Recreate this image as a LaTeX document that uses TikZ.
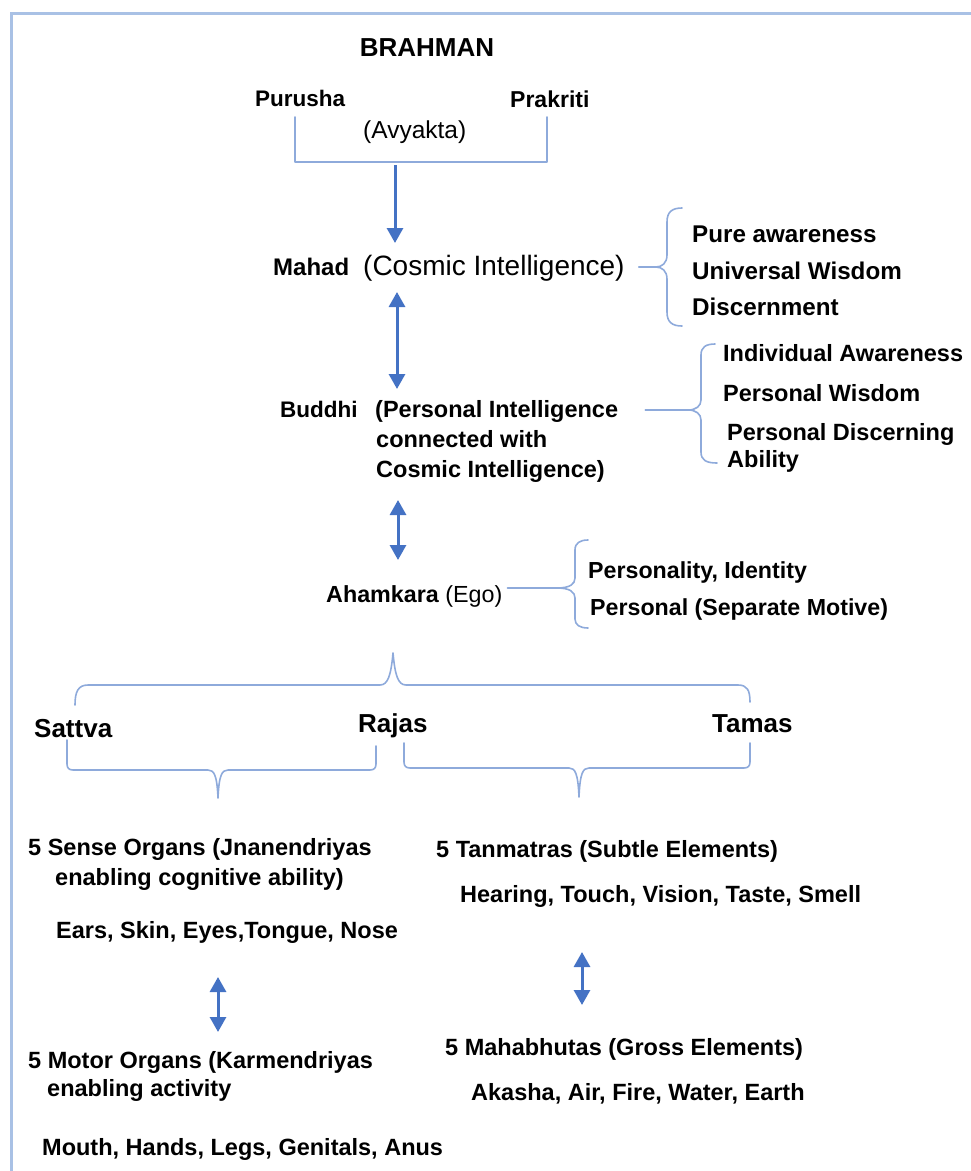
\documentclass[tikz,border=0pt]{standalone}
\usepackage{fontspec}
\setmainfont{Liberation Sans}
\usetikzlibrary{arrows.meta}
\definecolor{brk}{HTML}{8EAADB}
\definecolor{arr}{HTML}{4472C4}
\definecolor{frm}{HTML}{A9C1E5}
\begin{document}
\begin{tikzpicture}[x=1pt,y=-1pt,
  txt/.style={anchor=base west,inner sep=0pt,font=\bfseries\fontsize{23.5}{28}\selectfont},
  reg/.style={anchor=base west,inner sep=0pt,font=\fontsize{#1}{28}\selectfont},
  bsz/.style={anchor=base west,inner sep=0pt,font=\bfseries\fontsize{#1}{28}\selectfont},
  brace/.style={draw=brk,line width=1.6pt,line join=round,line cap=round},
  arrowS/.style={draw=arr,line width=3pt,-{Triangle[width=16pt,length=15pt]}},
  darrow/.style={draw=arr,line width=3pt,{Triangle[width=16pt,length=15pt]}-{Triangle[width=16pt,length=15pt]}},
]
\useasboundingbox (0,0) rectangle (971,1171);
% frame
\draw[frm,line width=3pt] (11,1171) -- (11,13) -- (971,13);

% top
\node[bsz=26,anchor=base] (brahman) at (427,56) {BRAHMAN};
\node[bsz=22.5] (purusha) at (255,106) {Purusha};
\node[bsz=23] (prakriti) at (510,107) {Prakriti};
\node[reg=24.5] (avyakta) at (363,138) {(Avyakta)};
\draw[brace] (295,117) -- (295,162) -- (547,162) -- (547,117);

\coordinate (avyB) at (395,165);
\coordinate (mahadT) at (395,243);
\draw[arrowS] (avyB) -- (mahadT);

% Mahad
\node[bsz=24] (mahad) at (273,275) {Mahad};
\node[reg=28] (cosmic) at (363,275) {(Cosmic Intelligence)};
\coordinate (mtip) at (656,267);
\draw[brace] (682,208) .. controls (672,208) and (667,212) .. (667,222) -- (667,255)
  .. controls (667,263) and (662,267) .. (mtip)
  .. controls (662,267) and (667,271) .. (667,279) -- (667,312)
  .. controls (667,322) and (672,326) .. (682,326);
\draw[brace] ([xshift=14pt]cosmic.east |- mtip) -- (mtip);
\node[bsz=24.2] (pure) at (692,242) {Pure awareness};
\node[bsz=24.2] (universal) at (692,279) {Universal Wisdom};
\node[bsz=24.2] (discern) at (692,315) {Discernment};

\coordinate (mbT) at (397,292);
\coordinate (mbB) at (397,389);
\draw[darrow] (mbT) -- (mbB);

% Buddhi
\node[bsz=22.5] (buddhi) at (280,417) {Buddhi};
\node[txt] (pint1) at (375,417) {(Personal Intelligence};
\node[txt] (pint2) at (376,447) {connected with};
\node[txt] (pint3) at (376,477) {Cosmic Intelligence)};
\coordinate (btip) at (688,410);
\draw[brace] (715,344) .. controls (706,344) and (701,347) .. (701,355) -- (701,400)
  .. controls (701,406) and (696,410) .. (btip)
  .. controls (696,410) and (701,414) .. (701,420) -- (701,452)
  .. controls (701,460) and (706,463) .. (717,463);
\draw[brace] ([xshift=27pt]pint1.east |- btip) -- (btip);
\node[txt] (indiv) at (723,361) {Individual Awareness};
\node[txt] (pwis) at (723,401) {Personal Wisdom};
\node[txt] (pdisc) at (727,440) {Personal Discerning};
\node[txt] (ability) at (727,467) {Ability};

\coordinate (baT) at (398,500);
\coordinate (baB) at (398,560);
\draw[darrow] (baT) -- (baB);

% Ahamkara
\node[bsz=23.3] (ahamkara) at (326,602) {Ahamkara \mdseries(Ego)};
\coordinate (atip) at (557,588);
\draw[brace] (588,540) .. controls (580,540) and (575,543) .. (575,550) -- (575,578)
  .. controls (575,584) and (570,588) .. (atip)
  .. controls (570,588) and (575,592) .. (575,598) -- (575,619)
  .. controls (575,625) and (580,628) .. (588,628);
\draw[brace] ([xshift=5pt]ahamkara.east |- atip) -- (atip);
\node[bsz=23.2] (persona) at (588,578) {Personality, Identity};
\node[bsz=23.2] (pmotive) at (590,615) {Personal (Separate Motive)};

% Gunas
\draw[brace] (75,705) .. controls (75,692) and (78,685) .. (88,685) -- (380,685)
  .. controls (388,685) and (391,675) .. (393,653)
  .. controls (395,675) and (398,685) .. (406,685) -- (738,685)
  .. controls (747,685) and (750,690) .. (750,702);
\node[bsz=26] (sattva) at (34,737) {Sattva};
\node[bsz=26] (rajas) at (358,732) {Rajas};
\node[bsz=26] (tamas) at (712,732) {Tamas};
\draw[brace] (67,740) -- (67,764) .. controls (67,768) and (69,770) .. (73,770) -- (208,770)
  .. controls (214,770) and (217,775) .. (218,798)
  .. controls (219,775) and (222,770) .. (228,770) -- (370,770)
  .. controls (374,770) and (376,768) .. (376,764) -- (376,746);
\draw[brace] (404,743) -- (404,762) .. controls (404,766) and (406,768) .. (410,768) -- (569,768)
  .. controls (575,768) and (578,773) .. (579,797)
  .. controls (580,773) and (583,768) .. (589,768) -- (744,768)
  .. controls (748,768) and (750,766) .. (750,762) -- (750,743);

% bottom left
\node[txt] (sense1) at (28,855) {5 Sense Organs (Jnanendriyas};
\node[txt] (sense2) at (55,885) {enabling cognitive ability)};
\node[txt] (senseList) at (56,938) {Ears, Skin, Eyes,Tongue, Nose};
\coordinate (smT) at (218,977);
\coordinate (smB) at (218,1032);
\draw[darrow] (smT) -- (smB);
\node[txt] (motor1) at (28,1068) {5 Motor Organs (Karmendriyas};
\node[txt] (motor2) at (47,1096) {enabling activity};
\node[txt] (motorList) at (42,1155) {Mouth, Hands, Legs, Genitals, Anus};

% bottom right
\node[txt] (tan1) at (436,857) {5 Tanmatras (Subtle Elements)};
\node[txt] (tanList) at (460,902) {Hearing, Touch, Vision, Taste, Smell};
\coordinate (tmT) at (582,952);
\coordinate (tmB) at (582,1005);
\draw[darrow] (tmT) -- (tmB);
\node[txt] (maha1) at (445,1055) {5 Mahabhutas (Gross Elements)};
\node[txt] (mahaList) at (471,1100) {Akasha, Air, Fire, Water, Earth};
\end{tikzpicture}
\end{document}
